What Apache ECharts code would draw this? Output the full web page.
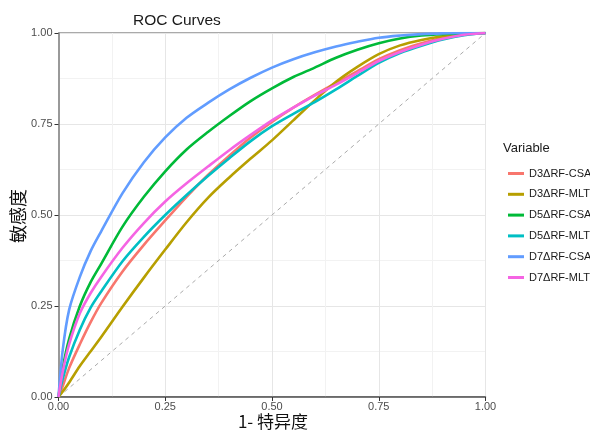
<!DOCTYPE html>
<html><head><meta charset="utf-8">
<script src="https://cdn.jsdelivr.net/npm/echarts@6/dist/echarts.min.js"></script>
<style>html,body{margin:0;padding:0;background:#fff}#c{width:590px;height:432px}</style>
</head><body><div id="c"></div>
<script>
const fpr = [0, 0.01, 0.025, 0.05, 0.075, 0.1, 0.15, 0.2, 0.25, 0.3, 0.35, 0.4, 0.45, 0.5, 0.55, 0.6, 0.65, 0.7, 0.75, 0.8, 0.85, 0.9, 0.95, 1];
const seriesNames = ['D3ΔRF-CSA', 'D3ΔRF-MLT', 'D5ΔRF-CSA', 'D5ΔRF-MLT', 'D7ΔRF-CSA', 'D7ΔRF-MLT'];
const d3csa = [0, 0.03, 0.08, 0.145, 0.205, 0.258, 0.345, 0.418, 0.485, 0.55, 0.61, 0.663, 0.713, 0.756, 0.795, 0.83, 0.863, 0.895, 0.928, 0.953, 0.972, 0.986, 0.996, 1];
const d3mlt = [0, 0.015, 0.04, 0.085, 0.125, 0.165, 0.248, 0.328, 0.405, 0.48, 0.547, 0.603, 0.655, 0.705, 0.76, 0.815, 0.866, 0.907, 0.942, 0.966, 0.981, 0.991, 0.997, 1];
const d5csa = [0, 0.08, 0.16, 0.25, 0.315, 0.366, 0.468, 0.55, 0.62, 0.68, 0.728, 0.772, 0.813, 0.848, 0.879, 0.905, 0.932, 0.954, 0.972, 0.985, 0.993, 0.997, 0.999, 1];
const d5mlt = [0, 0.05, 0.11, 0.185, 0.245, 0.29, 0.373, 0.44, 0.5, 0.555, 0.607, 0.656, 0.703, 0.744, 0.778, 0.81, 0.845, 0.882, 0.918, 0.945, 0.965, 0.982, 0.994, 1];
const d7csa = [0, 0.13, 0.24, 0.33, 0.40, 0.455, 0.56, 0.645, 0.713, 0.767, 0.808, 0.845, 0.877, 0.905, 0.928, 0.947, 0.963, 0.976, 0.987, 0.993, 0.997, 0.999, 1, 1];
const d7mlt = [0, 0.07, 0.145, 0.23, 0.285, 0.33, 0.41, 0.478, 0.537, 0.587, 0.633, 0.678, 0.72, 0.76, 0.795, 0.828, 0.858, 0.89, 0.923, 0.948, 0.968, 0.984, 0.995, 1];
const diagonal = [[0, 0], [1, 1]];
const tickLabels = ['0.00', '0.25', '0.50', '0.75', '1.00'];
const xTitle = '1- 特异度';
const yTitle = '敏感度';

const colors = ['#F8766D', '#B79F00', '#00BA38', '#00BFC4', '#619CFF', '#F564E3'];
const allY = [d3csa, d3mlt, d5csa, d5mlt, d7csa, d7mlt];
const lab = v => { const i = Math.round(v / 0.25); return Math.abs(v - i * 0.25) < 1e-6 ? tickLabels[i] : ''; };

const series = [{
  type: 'line', data: diagonal, showSymbol: false, silent: true,
  lineStyle: { color: '#aaaaaa', width: 1, type: [4, 4] }, z: 1
}].concat(allY.map((ys, k) => ({
  name: seriesNames[k], type: 'line', showSymbol: false, smooth: 0.3,
  data: fpr.map((x, i) => [x, ys[i]]),
  itemStyle: { color: colors[k] },
  lineStyle: { color: colors[k], width: 2.6 }, z: 2 + k
})));

const axisCommon = {
  type: 'value', min: 0, max: 1, interval: 0.25,
  axisLabel: { formatter: lab, color: '#4d4d4d', fontSize: 11, fontFamily: 'Liberation Sans' },
  axisTick: { show: true, length: 4, lineStyle: { color: '#333' } },
  splitLine: { show: true, lineStyle: { color: '#e6e6e6', width: 1 } },
  minorTick: { show: false, splitNumber: 2 },
  minorSplitLine: { show: true, lineStyle: { color: '#f2f2f2', width: 1 } }
};

const chart = echarts.init(document.getElementById('c'), null, { renderer: 'canvas' });
chart.setOption({
  animation: false,
  backgroundColor: '#fff',
  title: { text: 'ROC Curves', left: 128, top: 8,
    textStyle: { fontSize: 15.5, fontWeight: 'normal', color: '#1a1a1a', fontFamily: 'Liberation Sans' } },
  grid: { left: 58.5, right: 104.5, top: 33, bottom: 35, show: true, borderColor: '#555', borderWidth: 1,
    containLabel: false, outerBoundsMode: 'none' },
  xAxis: Object.assign({}, axisCommon, {
    axisLine: { show: true, lineStyle: { color: '#555', width: 1.5 } },
    axisLabel: Object.assign({}, axisCommon.axisLabel, { margin: 4 })
  }),
  yAxis: Object.assign({}, axisCommon, {
    axisLine: { show: true, lineStyle: { color: '#999', width: 2 } },
    axisLabel: Object.assign({}, axisCommon.axisLabel, { margin: 6 })
  }),
  legend: {
    orient: 'vertical', left: 503, top: 162, itemGap: 7.8,
    icon: 'rect', itemWidth: 16, itemHeight: 3,
    data: seriesNames,
    textStyle: { fontSize: 11, color: '#1a1a1a', fontFamily: 'Liberation Sans', lineHeight: 13 }
  },
  graphic: [
    { type: 'text', left: 503, top: 142,
      style: { text: 'Variable', fontSize: 13, fill: '#1a1a1a', fontFamily: 'Liberation Sans' } },
    { type: 'text', x: 273, y: 422,
      style: { text: xTitle, fontSize: 17, fill: '#111', fontFamily: 'Noto Sans CJK SC', align: 'center', verticalAlign: 'middle' } },
    { type: 'text', x: 18, y: 216, rotation: Math.PI / 2,
      style: { text: yTitle, fontSize: 18, fill: '#111', fontFamily: 'Noto Sans CJK SC', align: 'center', verticalAlign: 'middle' } }
  ],
  series: series
});
</script></body></html>
